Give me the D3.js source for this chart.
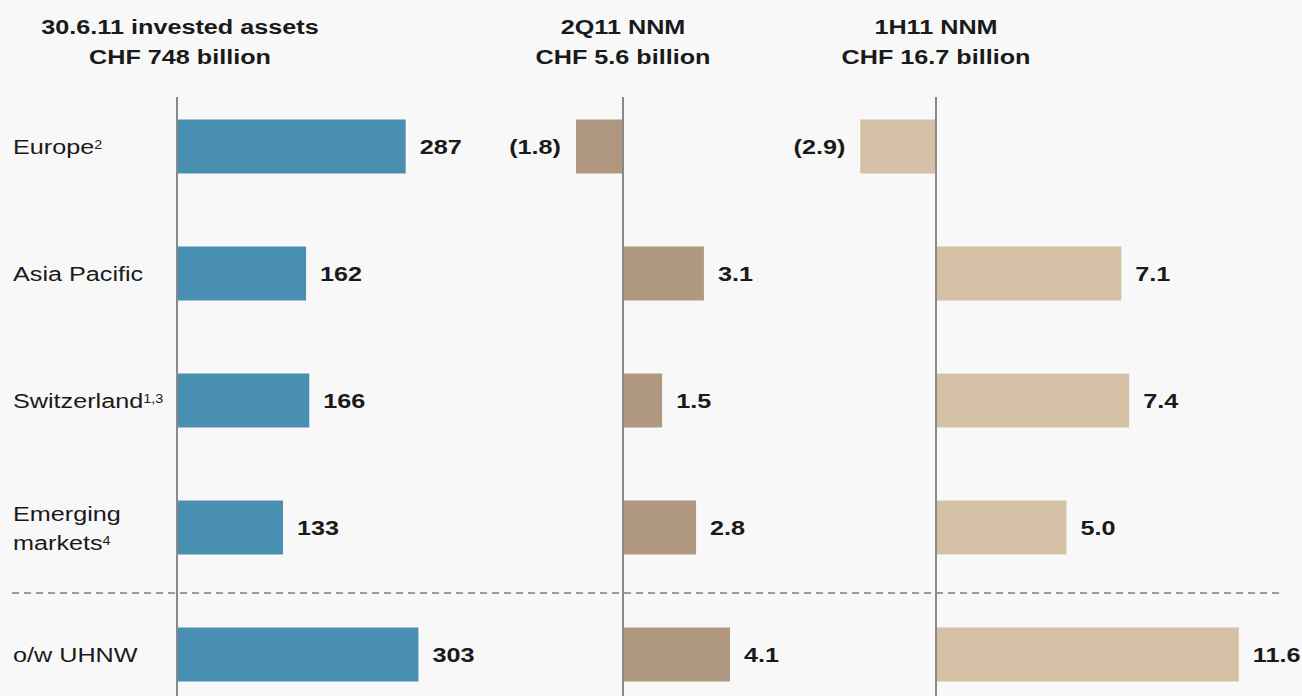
<!DOCTYPE html>
<html>
<head>
<meta charset="utf-8">
<script src="https://cdn.jsdelivr.net/npm/d3@7"></script>
<style>
  html, body { margin: 0; padding: 0; background: #f8f8f8; }
  svg { display: block; font-family: "Liberation Sans", Arial, sans-serif; }
</style>
</head>
<body>
<svg id="chart" width="1302" height="696"></svg>
<script>
// categories (label lines + footnote superscript)
const categories = ['Europe', 'Asia Pacific', 'Switzerland', 'Emerging markets', 'o/w UHNW'];
const labelLines = [['Europe'], ['Asia Pacific'], ['Switzerland'], ['Emerging', 'markets'], ['o/w UHNW']];
const footnotes = ['2', '', '1,3', '4', ''];

// values
const investedAssets = [287, 162, 166, 133, 303];
const nnm2Q11 = [-1.8, 3.1, 1.5, 2.8, 4.1];
const nnm1H11 = [-2.9, 7.1, 7.4, 5.0, 11.6];

// panel titles
const titles = [
    ['30.6.11 invested assets', 'CHF 748 billion'],
    ['2Q11 NNM', 'CHF 5.6 billion'],
    ['1H11 NNM', 'CHF 16.7 billion']
];

const stretch = 1.2; // the source text is a bit wide
const svg = d3.select('#chart');

const y = d3.scaleBand()
    .domain(categories)
    .range([83, 718])
    .paddingInner(0.575)
    .paddingOuter(0.2875);

// x scales: one for assets, two for net new money sharing the same unit
const xAssets = d3.scaleLinear().domain([0, 300]).range([177, 416]);
const k = 26.1;
const xNNM2 = d3.scaleLinear().domain([-3, 12]).range([623 - 3 * k, 623 + 12 * k]);
const xNNM1 = d3.scaleLinear().domain([-3, 12]).range([936 - 3 * k, 936 + 12 * k]);

const panels = [
    {values: investedAssets, x: xAssets, color: '#488fb1', fmt: d3.format('d'), title: titles[0], titleX: 180},
    {values: nnm2Q11, x: xNNM2, color: '#b09880', fmt: d3.format('.1f'), title: titles[1], titleX: 623},
    {values: nnm1H11, x: xNNM1, color: '#d5c1a5', fmt: d3.format('.1f'), title: titles[2], titleX: 936}
];

function place(x, y) {
    return `translate(${x},${y}) scale(${stretch},1)`;
}

// dashed separator between regions and UHNW
svg.append('line')
    .attr('x1', 12).attr('x2', 1282)
    .attr('y1', 593).attr('y2', 593)
    .attr('stroke', '#9a9a9a')
    .attr('stroke-width', 2)
    .attr('stroke-dasharray', '7,5');

panels.forEach(p => {
    // title
    p.title.forEach((line, i) => {
        svg.append('text')
            .attr('transform', place(p.titleX, 34 + i * 30))
            .attr('text-anchor', 'middle')
            .style('font-size', '21px')
            .style('font-weight', 'bold')
            .attr('fill', '#1a1a1a')
            .text(line);
    });

    // bars
    svg.selectAll(null)
        .data(p.values)
        .join('rect')
        .attr('x', d => p.x(Math.min(0, d)))
        .attr('y', (d, i) => y(categories[i]))
        .attr('width', d => Math.abs(p.x(d) - p.x(0)))
        .attr('height', y.bandwidth())
        .attr('fill', p.color);

    // zero axis line
    svg.append('line')
        .attr('x1', p.x(0)).attr('x2', p.x(0))
        .attr('y1', 97).attr('y2', 696)
        .attr('stroke', '#8a8a8a')
        .attr('stroke-width', 2);

    // value labels
    svg.selectAll(null)
        .data(p.values)
        .join('text')
        .attr('transform', (d, i) => place(d < 0 ? p.x(d) - 15 : p.x(d) + 14,
                                           y(categories[i]) + y.bandwidth() / 2))
        .attr('dy', '0.36em')
        .attr('text-anchor', d => d < 0 ? 'end' : 'start')
        .style('font-size', '21px')
        .style('font-weight', 'bold')
        .attr('fill', '#1a1a1a')
        .text(d => d < 0 ? '(' + p.fmt(-d) + ')' : p.fmt(d));
});

// category labels
categories.forEach((c, i) => {
    const lines = labelLines[i];
    const cy = y(c) + y.bandwidth() / 2;
    lines.forEach((line, j) => {
        const t = svg.append('text')
            .attr('transform', place(13, cy + (j - (lines.length - 1) / 2) * 29))
            .attr('dy', '0.36em')
            .style('font-size', '21px')
            .attr('fill', '#1a1a1a')
            .text(line);
        if (footnotes[i] && j === lines.length - 1) {
            t.append('tspan')
                .attr('dy', '-0.4em')
                .style('font-size', '12px')
                .text(footnotes[i]);
        }
    });
});
</script>
</body>
</html>
